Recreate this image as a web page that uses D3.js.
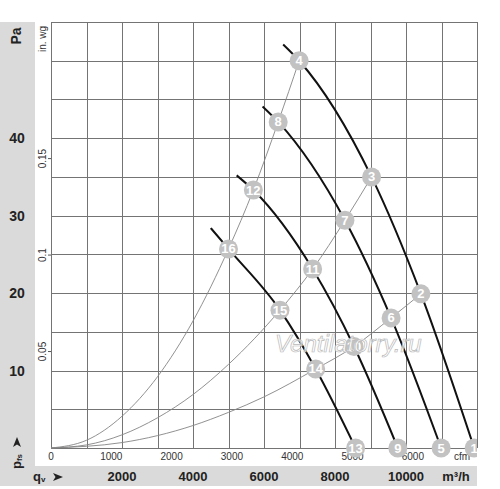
<!DOCTYPE html>
<html>
<head>
<meta charset="utf-8">
<script src="https://cdn.jsdelivr.net/npm/d3@7"></script>
<style>
body { margin: 0; background: #fff; }
svg { display: block; font-family: "Liberation Sans", Arial, sans-serif; }
</style>
</head>
<body>
<svg id="chart"></svg>
<script>
const WIDTH = 500, HEIGHT = 489;
const PANEL_COLOUR = '#dadada';
const GRID_COLOUR = '#747474';
const MARKER_COLOUR = '#c2c2c2';
const SYSTEM_COLOUR = '#858585';

// axis labels
const flowLabels = [2000, 4000, 6000, 8000, 10000];      // m3/h
const pressureLabels = [10, 20, 30, 40];                 // Pa
const cfmLabels = [0, 1000, 2000, 3000, 4000, 5000, 6000];
const inwgLabels = [0.05, 0.1, 0.15];

// fan curves (m3/h, Pa), marker number 0 = no marker
const fanFlow = [
    [6540, 6990, 9030, 10420, 11920],
    [5960, 6400, 8280, 9580, 10990],
    [5230, 5700, 7370, 8535, 9770],
    [4500, 5000, 6450, 7456, 8580]
];
const fanPressure = [
    [52.1, 50.0, 35.0, 19.9, 0],
    [44.1, 42.1, 29.4, 16.8, 0],
    [35.2, 33.3, 23.1, 13.1, 0],
    [28.4, 25.7, 17.8, 10.2, 0]
];
const fanMarkers = [
    [0, 4, 3, 2, 1],
    [0, 8, 7, 6, 5],
    [0, 12, 11, 10, 9],
    [0, 16, 15, 14, 13]
];

// system curves (thin lines from origin)
const sysFlow = [
    [0, 1000, 2000, 3000, 4000, 5000, 5700, 6400, 6990],
    [0, 1000, 2000, 3000, 4000, 5000, 6450, 7370, 8280, 9030],
    [0, 2000, 4000, 5000, 6000, 7456, 8535, 9580, 10420]
];
const sysPressure = [
    [0, 1.0, 4.1, 9.2, 16.4, 25.7, 33.3, 42.1, 50.0],
    [0, 0.4, 1.7, 3.9, 6.9, 10.8, 17.8, 23.1, 29.4, 35.0],
    [0, 0.7, 2.9, 4.6, 6.6, 10.2, 13.1, 16.8, 19.9]
];

var svg = d3.select('#chart').attr('width', WIDTH).attr('height', HEIGHT);

var plot = { left: 51, right: 477, top: 22, bottom: 448 };

var x = d3.scaleLinear().domain([0, 12000]).range([plot.left, plot.right]);
var y = d3.scaleLinear().domain([0, 55]).range([plot.bottom, plot.top]);
var xCfm = d3.scaleLinear().domain([0, 12000 / 1.699]).range([plot.left, plot.right]);
var yInwg = d3.scaleLinear().domain([0, 55 / 249.09]).range([plot.bottom, plot.top]);

// grey panels
svg.append('rect').attr('x', 0).attr('y', 22).attr('width', 35).attr('height', 464).attr('fill', PANEL_COLOUR);
svg.append('rect').attr('x', 0).attr('y', 466).attr('width', 477).attr('height', 20).attr('fill', PANEL_COLOUR);

// grid
var grid = svg.append('g').attr('stroke', GRID_COLOUR).attr('stroke-width', 1);
x.ticks(12).forEach(function(t) {
    var px = Math.round(x(t)) + 0.5;
    grid.append('line').attr('x1', px).attr('x2', px).attr('y1', plot.top).attr('y2', plot.bottom);
});
y.ticks(11).forEach(function(t) {
    var py = Math.round(y(t)) + 0.5;
    grid.append('line').attr('x1', plot.left).attr('x2', plot.right).attr('y1', py).attr('y2', py);
});

// Pa labels
var paG = svg.append('g').attr('font-weight', 'bold').attr('font-size', 14).attr('fill', '#222').attr('text-anchor', 'middle');
pressureLabels.forEach(function(v) {
    paG.append('text').attr('x', 17).attr('y', y(v) + 5).text(v);
});
paG.append('text').attr('transform', 'translate(21,36) rotate(-90)').text('Pa');

// in. wg labels
var wgG = svg.append('g').attr('font-size', 10).attr('fill', '#333').attr('text-anchor', 'middle');
inwgLabels.forEach(function(v) {
    var py = yInwg(v);
    wgG.append('text').attr('transform', 'translate(46,' + py + ') rotate(-90)').text(v);
    wgG.append('line').attr('x1', 48).attr('x2', 51).attr('y1', py).attr('y2', py).attr('stroke', '#555');
});
wgG.append('text').attr('transform', 'translate(46,39) rotate(-90)').text('in. wg');

// cfm labels
var cfmG = svg.append('g').attr('font-size', 10).attr('fill', '#333').attr('text-anchor', 'middle');
cfmLabels.forEach(function(v) {
    cfmG.append('text').attr('x', xCfm(v)).attr('y', 460).text(v);
});
cfmG.append('text').attr('x', 462).attr('y', 460).text('cfm');

// m3/h labels
var flowG = svg.append('g').attr('font-weight', 'bold').attr('font-size', 13).attr('fill', '#222').attr('text-anchor', 'middle');
flowLabels.forEach(function(v) {
    flowG.append('text').attr('x', x(v)).attr('y', 481).text(v);
});
flowG.append('text').attr('x', 456).attr('y', 481).text('m³/h');

// axis symbols with arrows
function arrowHead(g, cx, cy, angle) {
    g.append('path')
        .attr('d', 'M-5,-4 L5,0 L-5,4 L-2.5,0 Z')
        .attr('fill', '#222')
        .attr('transform', 'translate(' + cx + ',' + cy + ') rotate(' + angle + ')');
}
var symG = svg.append('g').attr('fill', '#222').attr('font-weight', 'bold');
var qv = symG.append('text').attr('x', 33).attr('y', 481).attr('font-size', 13);
qv.append('tspan').text('q');
qv.append('tspan').attr('font-size', 8).attr('dy', 1).text('v');
arrowHead(symG, 58, 477, 0);
var pfs = symG.append('text').attr('transform', 'translate(21,469) rotate(-90)').attr('font-size', 13);
pfs.append('tspan').text('p');
pfs.append('tspan').attr('font-size', 8).attr('dy', 1).text('fs');
arrowHead(symG, 17, 442, -90);

// system curves
var curveLine = d3.line().curve(d3.curveMonotoneX)
    .x(function(d) { return x(d[0]); })
    .y(function(d) { return y(d[1]); });
sysFlow.forEach(function(fl, i) {
    var pts = fl.map(function(q, j) { return [q, sysPressure[i][j]]; });
    svg.append('path').attr('d', curveLine(pts))
        .attr('fill', 'none').attr('stroke', SYSTEM_COLOUR).attr('stroke-width', 0.9);
});

// fan curves
fanFlow.forEach(function(fl, i) {
    var pts = fl.map(function(q, j) { return [q, fanPressure[i][j]]; });
    svg.append('path').attr('d', curveLine(pts))
        .attr('fill', 'none').attr('stroke', '#111').attr('stroke-width', 2);
});

// markers
svg.append('defs').append('clipPath').attr('id', 'plotclip')
    .append('rect').attr('x', 0).attr('y', 0).attr('width', plot.right).attr('height', 466);
var markG = svg.append('g').attr('clip-path', 'url(#plotclip)');
fanFlow.forEach(function(fl, i) {
    fl.forEach(function(q, j) {
        var n = fanMarkers[i][j];
        if (!n) { return; }
        var cx = x(q), cy = y(fanPressure[i][j]);
        markG.append('circle').attr('cx', cx).attr('cy', cy).attr('r', 9.5).attr('fill', MARKER_COLOUR);
        markG.append('text').attr('x', cx).attr('y', cy + 4.5)
            .attr('text-anchor', 'middle').attr('font-size', 13).attr('font-weight', 'bold')
            .attr('fill', '#fff').text(n);
    });
});

// watermark
svg.append('text').attr('x', 275).attr('y', 352)
    .attr('font-size', 24).attr('font-style', 'italic')
    .attr('fill', '#fff').attr('fill-opacity', 0.75)
    .attr('stroke', '#b8b8b8').attr('stroke-width', 0.7)
    .text('Ventilatorry.ru');
</script>
</body>
</html>
